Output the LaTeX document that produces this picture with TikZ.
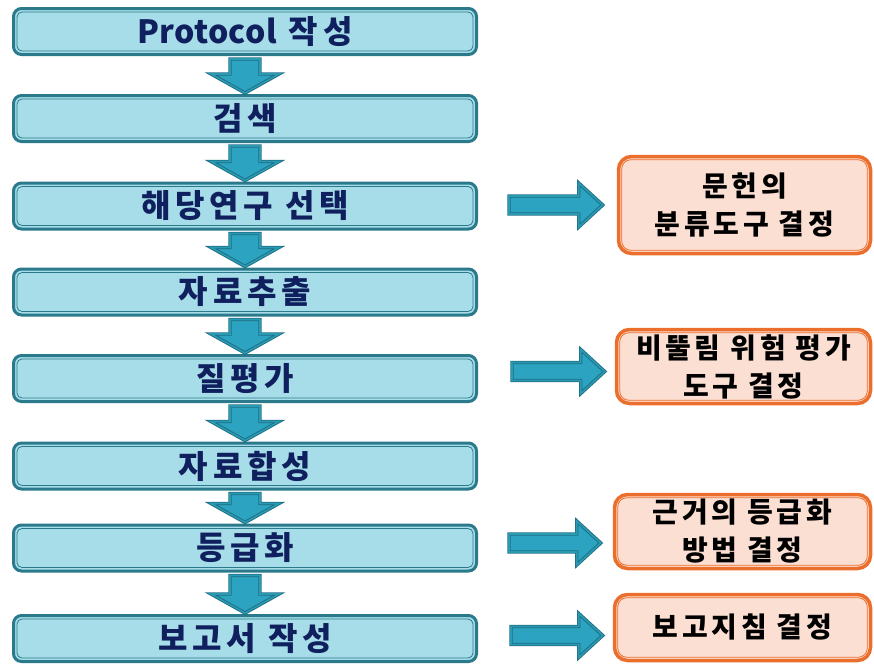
\documentclass[tikz,border=0pt]{standalone}
\usepackage{fontspec}
\usetikzlibrary{calc}
\newfontfamily\krfont{Noto Sans CJK KR}

\definecolor{stepfill}{HTML}{A6DDE8}
\definecolor{stepline}{HTML}{2A7A8C}
\definecolor{steptext}{HTML}{10205E}
\definecolor{arrowfill}{HTML}{2CA3C0}
\definecolor{arrowline}{HTML}{1E6F82}
\definecolor{notefill}{HTML}{FBDFD2}
\definecolor{noteline}{HTML}{EC6E2C}

\tikzset{
  stepbox/.style={rectangle, rounded corners=8pt, draw=stepline, line width=3pt,
    fill=stepfill, minimum width=463pt, minimum height=46pt, inner sep=0pt,
    text=steptext, font=\krfont\bfseries\addfontfeature{LetterSpace=15}\fontsize{32}{34}\selectfont},
  stepinner/.style={draw=stepline, line width=0.8pt, rounded corners=5pt},
  notebox/.style={rectangle, rounded corners=13pt, draw=noteline, line width=3.5pt,
    fill=notefill, inner sep=0pt, align=center, text=black,
    font=\krfont\bfseries\addfontfeature{LetterSpace=13}\fontsize{28}{38}\selectfont},
  noteinner/.style={draw=noteline, line width=0.8pt, rounded corners=9pt},
  blockarrow/.style={fill=arrowfill, draw=arrowline, line width=0.9pt,
    double=arrowfill!80!arrowline, double distance=1.6pt, line join=miter},
}

% vertical block arrow from the bottom of #1 to the top of #2
\newcommand\flowdown[2]{%
  \path[blockarrow] let \p1=(#1.south), \p2=(#2.north) in
    (\x1-15pt,\y1-3pt) -- (\x1+15pt,\y1-3pt) -- (\x1+15pt,\y2+20pt)
    -- (\x1+34pt,\y2+20pt) -- (\x2,\y2+1pt) -- (\x1-34pt,\y2+20pt)
    -- (\x1-15pt,\y2+20pt) -- cycle;}

% horizontal block arrow from coordinate #1 to coordinate #2
\newcommand\flowright[2]{%
  \path[blockarrow] let \p1=(#1), \p2=(#2) in
    (\x1,\y1+9pt) -- (\x2-24pt,\y1+9pt) -- (\x2-24pt,\y1+22pt)
    -- (\x2,\y1) -- (\x2-24pt,\y1-22pt) -- (\x2-24pt,\y1-9pt)
    -- (\x1,\y1-9pt) -- cycle;}

\begin{document}
\begin{tikzpicture}[x=1pt,y=-1pt]
\useasboundingbox (0,0) rectangle (874,664);

% main steps
\node[stepbox] (s1) at (245,31.5) {{\addfontfeature{LetterSpace=1}Protocol} 작성};
\node[stepbox] (s2) at (245,118.5) {검색};
\node[stepbox] (s3) at (245,206) {해당연구 선택};
\node[stepbox] (s4) at (245,292) {자료추출};
\node[stepbox] (s5) at (245,378.5) {질평가};
\node[stepbox] (s6) at (245,466) {자료합성};
\node[stepbox] (s7) at (245,548) {등급화};
\node[stepbox] (s8) at (245,638.5) {보고서 작성};

\foreach \n in {s1,s2,s3,s4,s5,s6,s7,s8}
  \draw[stepinner] ([xshift=5pt,yshift=-5pt]\n.north west) rectangle ([xshift=-5pt,yshift=5pt]\n.south east);

% decisions taken along the way
\node[notebox, minimum width=252pt, minimum height=97pt] (d1) at (744.5,205) {문헌의\\분류도구 결정};
\node[notebox, minimum width=254pt, minimum height=74pt] (d2) at (743.5,366.5) {비뚤림 위험 평가\\도구 결정};
\node[notebox, minimum width=256pt, minimum height=74pt] (d3) at (742.5,531.5) {근거의 등급화\\방법 결정};
\node[notebox, minimum width=256pt, minimum height=66pt] (d4) at (742.5,627.5) {보고지침 결정};

\foreach \n in {d1,d2,d3,d4}
  \draw[noteinner] ([xshift=5pt,yshift=-5pt]\n.north west) rectangle ([xshift=-5pt,yshift=5pt]\n.south east);

% flow between the steps
\flowdown{s1}{s2}
\flowdown{s2}{s3}
\flowdown{s3}{s4}
\flowdown{s4}{s5}
\flowdown{s5}{s6}
\flowdown{s6}{s7}
\flowdown{s7}{s8}

% links to the decisions
\coordinate (r1a) at ([xshift=31pt,yshift=1pt]s3.east);
\coordinate (r1b) at ([xshift=-14pt]r1a -| d1.west);
\coordinate (r2a) at ([xshift=34pt,yshift=7pt]s5.east);
\coordinate (r2b) at ([xshift=-10pt]r2a -| d2.west);
\coordinate (r3a) at ([xshift=31pt,yshift=5pt]s7.east);
\coordinate (r3b) at ([xshift=-12pt]r3a -| d3.west);
\coordinate (r4a) at ([xshift=33pt,yshift=3pt]s8.east);
\coordinate (r4b) at ([xshift=-10pt]r4a -| d4.west);
\flowright{r1a}{r1b}
\flowright{r2a}{r2b}
\flowright{r3a}{r3b}
\flowright{r4a}{r4b}
\end{tikzpicture}
\end{document}
